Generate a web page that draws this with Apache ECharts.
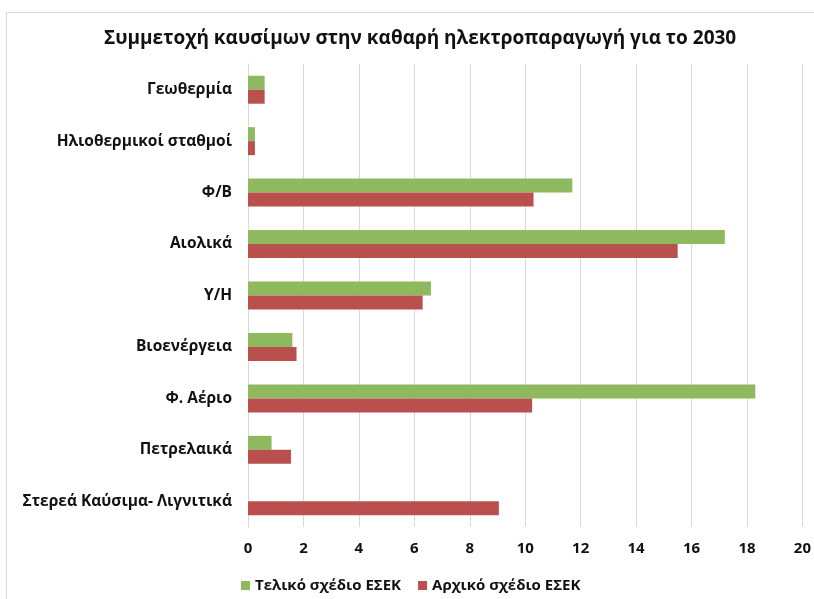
<!DOCTYPE html>
<html>
<head>
<meta charset="utf-8">
<script src="https://cdn.jsdelivr.net/npm/echarts@6/dist/echarts.min.js"></script>
<style>
    html, body { margin: 0; padding: 0; background: #fff; }
    #chart { width: 814px; height: 599px; }
</style>
</head>
<body>
<div id="chart"></div>
<script>
// Fuel share in net electricity generation, 2030
const categories = [
    'Γεωθερμία',
    'Ηλιοθερμικοί σταθμοί',
    'Φ/Β',
    'Αιολικά',
    'Υ/Η',
    'Βιοενέργεια',
    'Φ. Αέριο',
    'Πετρελαικά',
    'Στερεά Καύσιμα- Λιγνιτικά'
];
const finalPlan = [0.6, 0.25, 11.7, 17.2, 6.6, 1.6, 18.3, 0.85, 0];
const initialPlan = [0.6, 0.25, 10.3, 15.5, 6.3, 1.75, 10.25, 1.55, 9.05];
const seriesNames = ['Τελικό σχέδιο ΕΣΕΚ', 'Αρχικό σχέδιο ΕΣΕΚ'];

const FONT = '"Open Sans", sans-serif';

document.addEventListener('DOMContentLoaded', function() {
    const chart = echarts.init(document.getElementById('chart'));

    const option = {
        backgroundColor: '#fff',
        animation: false,
        textStyle: { fontFamily: FONT },
        graphic: [{
            type: 'rect',
            silent: true,
            z: -10,
            shape: { x: 6.5, y: 12.5, width: 900, height: 700 },
            style: { fill: 'none', stroke: '#d9d9d9', lineWidth: 1 }
        }],
        title: {
            text: 'Συμμετοχή καυσίμων στην καθαρή ηλεκτροπαραγωγή για το 2030',
            left: 99,
            top: 24,
            textStyle: { fontFamily: FONT, fontSize: 19, fontWeight: 'bold', color: '#111' }
        },
        legend: {
            data: seriesNames,
            left: 236,
            top: 573,
            itemWidth: 9,
            itemHeight: 9,
            itemGap: 17,
            icon: 'rect',
            textStyle: { fontFamily: FONT, fontSize: 15, fontWeight: 'bold', color: '#111' }
        },
        grid: { left: 248, right: 10, top: 64, bottom: 72, containLabel: false },
        xAxis: {
            type: 'value',
            min: 0,
            max: 20,
            interval: 2,
            axisLine: { show: false },
            axisTick: { show: false },
            axisLabel: { fontFamily: FONT, fontSize: 15, fontWeight: 'bold', color: '#111', margin: 14 },
            splitLine: { lineStyle: { color: '#d9d9d9', width: 1 } }
        },
        yAxis: {
            type: 'category',
            data: categories,
            inverse: true,
            axisLine: { lineStyle: { color: '#d9d9d9' } },
            axisTick: { show: false },
            axisLabel: { fontFamily: FONT, fontSize: 15.5, fontWeight: 'bold', color: '#111', margin: 16 }
        },
        series: [{
            name: seriesNames[0],
            type: 'bar',
            data: finalPlan,
            barWidth: 14,
            barGap: '0%',
            itemStyle: { color: '#8EB95F' }
        }, {
            name: seriesNames[1],
            type: 'bar',
            data: initialPlan,
            barWidth: 14,
            barGap: '0%',
            itemStyle: { color: '#B9504E' }
        }]
    };

    chart.setOption(option);
});
</script>
</body>
</html>
